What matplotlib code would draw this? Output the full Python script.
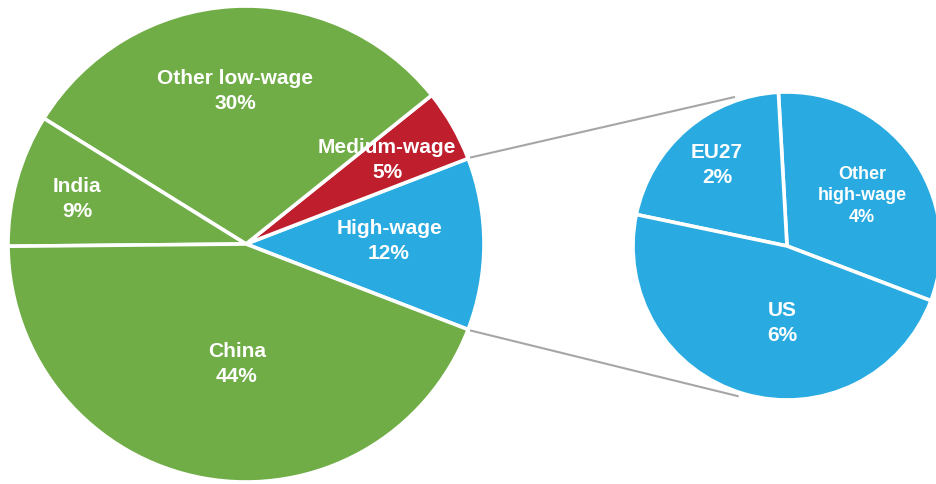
import numpy as np
import matplotlib
matplotlib.use("Agg")
import matplotlib.pyplot as plt

# main pie (share of total, %), counter-clockwise from the high-wage slice
main_labels = ["High-wage", "Medium-wage", "Other low-wage", "India", "China"]
main_values = [11.7, 4.9, 30.4, 9.0, 44.0]
main_text = ["12%", "5%", "30%", "9%", "44%"]

# breakdown of the high-wage slice
sub_labels = ["Other\nhigh-wage", "EU27", "US"]
sub_values = [3.8, 2.5, 5.7]
sub_text = ["4%", "2%", "6%"]

GREEN = "#70AD47"
RED = "#BF1E2D"
BLUE = "#29ABE2"
main_colors = [BLUE, RED, GREEN, GREEN, GREEN]
sub_colors = [BLUE, BLUE, BLUE]

W, H = 936, 485
plt.rcParams["font.family"] = ["Liberation Sans", "DejaVu Sans"]

fig = plt.figure(figsize=(W / 100, H / 100), dpi=100)
ax = fig.add_axes([0, 0, 1, 1])

# layout in pixels (y measured from top), converted to data coords
main_c = (246, H - 245)
main_r = 238
sub_c = (787, H - 247)
sub_r = 154

wp = dict(edgecolor="white", linewidth=2.6)
start_main = -180 * main_values[0] / 100
wedges, _ = ax.pie(main_values, colors=main_colors, startangle=start_main,
                   center=main_c, radius=main_r, wedgeprops=wp, frame=False)
start_sub = -20.8
sub_wedges, _ = ax.pie(sub_values, colors=sub_colors, startangle=start_sub,
                       center=sub_c, radius=sub_r, wedgeprops=wp, frame=False)

# connector lines from the high-wage slice edges to the secondary pie
hw = wedges[0]
for a_main, a_sub in [(hw.theta2, 109.6), (hw.theta1, 251.8)]:
    x0 = main_c[0] + (main_r + 3) * np.cos(np.radians(a_main))
    y0 = main_c[1] + (main_r + 3) * np.sin(np.radians(a_main))
    x1 = sub_c[0] + (sub_r + 4) * np.cos(np.radians(a_sub))
    y1 = sub_c[1] + (sub_r + 4) * np.sin(np.radians(a_sub))
    ax.plot([x0, x1], [y0, y1], color="#A6A6A6", lw=1.5, zorder=0)

# label positions (pixels from top-left)
main_pos = [(389, 241), (387, 160), (235, 91), (77, 199), (237, 364)]
sub_pos = [(862, 196), (717, 165), (782, 323)]

for name, pct, (px, py) in zip(main_labels, main_text, main_pos):
    ax.text(px, H - py, f"{name}\n{pct}", ha="center", va="center",
            color="white", fontsize=15, fontweight="bold", linespacing=1.35)

for name, pct, (px, py) in zip(sub_labels, sub_text, sub_pos):
    fs = 13 if "\n" in name else 15
    ax.text(px, H - py, f"{name}\n{pct}", ha="center", va="center",
            color="white", fontsize=fs, fontweight="bold", linespacing=1.35)

ax.set_xlim(0, W)
ax.set_ylim(0, H)
ax.set_aspect("equal", adjustable="datalim")
ax.set_axis_off()

fig.savefig("out.png", dpi=100, facecolor="white")
